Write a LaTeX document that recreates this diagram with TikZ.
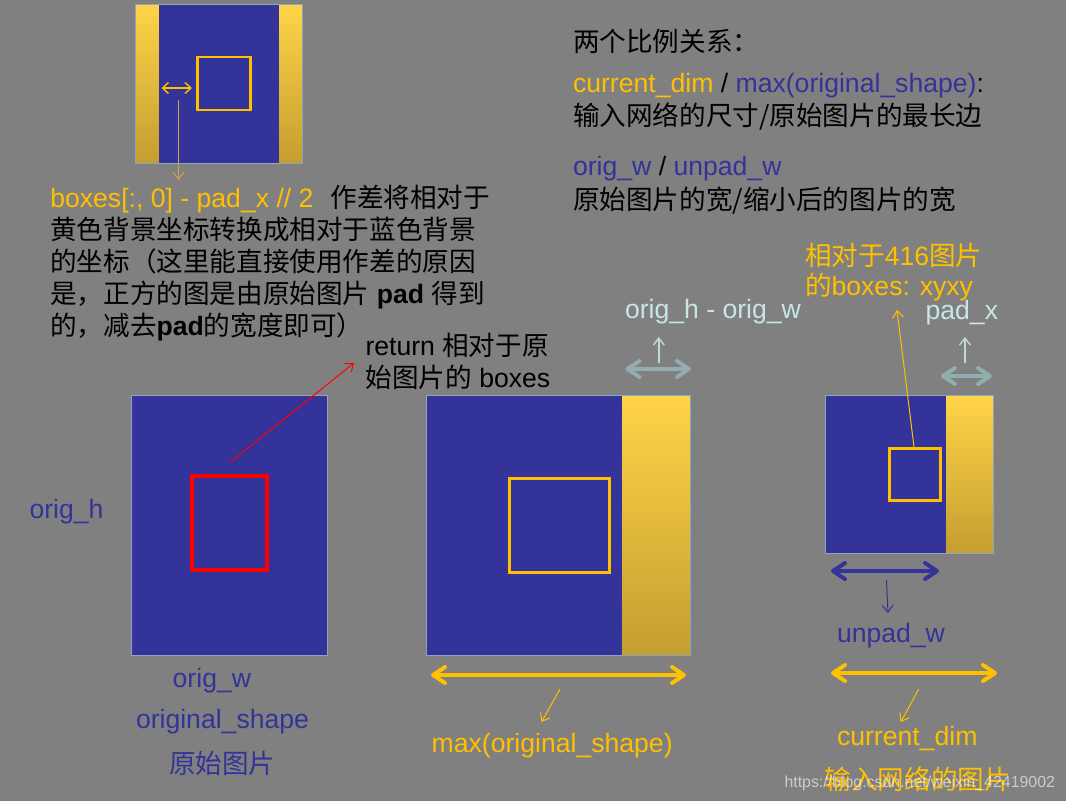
\documentclass[tikz,border=0pt]{standalone}
\usepackage{fontspec}
\setmainfont{Liberation Sans}
\newfontfamily\cjk{Noto Sans CJK SC}
\usetikzlibrary{arrows.meta}
\definecolor{bgGray}{HTML}{808080}
\definecolor{imgBlue}{HTML}{333399}
\definecolor{boxYellow}{HTML}{FFC000}
\definecolor{padTop}{HTML}{FFD447}
\definecolor{padBot}{HTML}{C49E30}
\definecolor{padCyan}{HTML}{C8E6E6}
\definecolor{padArrow}{HTML}{93AEAE}
\definecolor{edgeGray}{HTML}{8FA4C0}
\definecolor{tanArrow}{HTML}{D2A445}
\begin{document}
\begin{tikzpicture}[x=1pt,y=-1pt]
  % pixel grid of the slide, y running down
  \tikzstyle{every node}=[inner sep=0pt, outer sep=0pt, font=\fontsize{26.6}{32}\selectfont]
  \tikzstyle{txt}=[anchor=base west]
  \tikzstyle{blueimg}=[rectangle, fill=imgBlue, anchor=north west]
  \tikzstyle{padimg}=[rectangle, top color=padTop, bottom color=padBot, anchor=north west]
  \tikzstyle{frame}=[rectangle, draw=edgeGray, line width=0.8pt, anchor=north west]
  \tikzstyle{bbox}=[rectangle, draw=boxYellow, line width=3pt, anchor=north west]
  \tikzstyle{pointer}=[line width=1pt, -{Straight Barb[length=7pt,width=11pt]}]
  \tikzstyle{pointers}=[line width=1.4pt, {Straight Barb[length=6pt,width=11pt]}-{Straight Barb[length=6pt,width=11pt]}]
  \tikzstyle{span}=[line width=4pt, line cap=round, {Straight Barb[length=12pt,width=16pt,round]}-{Straight Barb[length=12pt,width=16pt,round]}]

  \useasboundingbox (0,0) rectangle (1066,801);
  \fill[bgGray] (0,0) rectangle (1066,801);

  % padded square at the top
  \node [padimg, minimum width=23.4pt, minimum height=159pt] (topL) at (135.3,4) {};
  \node [blueimg, minimum width=120.7pt, minimum height=159pt] (topB) at (158.7,4) {};
  \node [padimg, minimum width=23.1pt, minimum height=159pt] (topR) at (279.4,4) {};
  \node [frame, minimum width=167.2pt, minimum height=159pt] (topF) at (135.3,4) {};
  \node [bbox, line width=2.5pt, minimum width=53pt, minimum height=53pt] (topBox) at (197.5,57) {};

  % original image
  \node [blueimg, minimum width=195.8pt, minimum height=260pt] (origB) at (131.5,395) {};
  \node [frame, minimum width=195.8pt, minimum height=260pt] (origF) at (131.5,395) {};
  \node [bbox, draw=red, line width=3.5pt, minimum width=74.8pt, minimum height=94pt] (origBox) at (192,476) {};

  % image padded to max(original_shape)
  \node [blueimg, minimum width=195.8pt, minimum height=260pt] (maxB) at (426.6,395) {};
  \node [padimg, minimum width=68pt, minimum height=260pt] (maxP) at (622.4,395) {};
  \node [frame, minimum width=263.8pt, minimum height=260pt] (maxF) at (426.6,395) {};
  \node [bbox, minimum width=100.2pt, minimum height=94pt] (maxBox) at (509.3,478) {};

  % network input image
  \node [blueimg, minimum width=120.5pt, minimum height=158pt] (netB) at (825.5,395) {};
  \node [padimg, minimum width=47.6pt, minimum height=158pt] (netP) at (946,395) {};
  \node [frame, minimum width=168.1pt, minimum height=158pt] (netF) at (825.5,395) {};
  \node [bbox, minimum width=51pt, minimum height=52pt] (netBox) at (889,448) {};

  % note on the left
  \node [txt] (n1) at (50.3,207) {{\color{boxYellow}boxes[:, 0] - pad\_x // 2}\hspace{17pt}{\cjk 作差将相对于}};
  \node [txt] (n2) at (50.3,239) {\cjk 黄色背景坐标转换成相对于蓝色背景};
  \node [txt] (n3) at (50.3,271) {\cjk 的坐标（这里能直接使用作差的原因};
  \node [txt] (n4) at (50.3,303) {{\cjk 是，正方的图是由原始图片} \textbf{pad} {\cjk 得到}};
  \node [txt] (n5) at (50.3,335) {{\cjk 的，减去}\textbf{pad}{\cjk 的宽度即可）}};

  % the two ratios
  \node [txt] (r0) at (573,51) {\cjk 两个比例关系：};
  \node [txt] (r1) at (573,92) {{\color{boxYellow}current\_dim} / {\color{imgBlue}max(original\_shape)}:};
  \node [txt] (r2) at (573,125) {\cjk 输入网络的尺寸/原始图片的最长边};
  \node [txt] (r3) at (573,175) {{\color{imgBlue}orig\_w} / {\color{imgBlue}unpad\_w}};
  \node [txt] (r4) at (573,209) {\cjk 原始图片的宽/缩小后的图片的宽};

  % labels
  \node [txt, boxYellow] (rel1) at (805,265) {{\cjk 相对于}416{\cjk 图片}};
  \node [txt, boxYellow] (rel2) at (805,295) {{\cjk 的}boxes: xyxy};
  \node [txt, padCyan] (hw) at (625,318) {orig\_h - orig\_w};
  \node [txt, padCyan] (padx) at (925.6,319) {pad\_x};
  \node [txt] (ret1) at (365.5,355) {return {\cjk 相对于原}};
  \node [txt] (ret2) at (365.5,387) {{\cjk 始图片的} boxes};
  \node [txt, imgBlue] (oh) at (29.6,518) {orig\_h};
  \node [txt, imgBlue] (ow) at (172.7,687) {orig\_w};
  \node [txt, imgBlue] (os) at (136,728) {original\_shape};
  \node [txt, imgBlue] (oc) at (169,773) {\cjk 原始图片};
  \node [txt, boxYellow] (mx) at (431.7,752) {max(original\_shape)};
  \node [txt, imgBlue] (uw) at (837,642) {unpad\_w};
  \node [txt, boxYellow] (cd) at (837,745) {current\_dim};
  \node [txt, boxYellow] (nc) at (824.6,789) {\cjk 输入网络的图片};
  \node [txt, font=\fontsize{15.9}{18}\selectfont, white, text opacity=0.6] (wm) at (784.5,787) {https://blog.csdn.net/weixin\_42419002};

  % arrow ends
  \coordinate (padL) at (161.5,88);
  \coordinate (padR) at (192,88);
  \coordinate (padM) at (178.5,100);
  \coordinate (noteTop) at (178.5,180);
  \coordinate (redFrom) at (230.5,462);
  \coordinate (redTo) at (354,363);
  \coordinate (netFrom) at (914,447);
  \coordinate (netTo) at (897,310);
  \coordinate (hwL) at (625.5,369);
  \coordinate (hwR) at (691,369);
  \coordinate (hwM) at (658.8,363);
  \coordinate (hwT) at (658.8,337);
  \coordinate (pxL) at (941,376);
  \coordinate (pxR) at (992,376);
  \coordinate (pxM) at (965,363);
  \coordinate (pxT) at (965,337);
  \coordinate (mxL) at (431,675);
  \coordinate (mxR) at (686,675);
  \coordinate (mxA) at (560,689);
  \coordinate (mxB) at (541.5,722);
  \coordinate (uwL) at (831,571);
  \coordinate (uwR) at (939,571);
  \coordinate (uwA) at (886.5,580);
  \coordinate (uwB) at (888,613);
  \coordinate (cdL) at (831,673);
  \coordinate (cdR) at (997,673);
  \coordinate (cdA) at (918.8,689);
  \coordinate (cdB) at (900.8,722);

  % arrows
  \draw [pointers, boxYellow] (padL) -- (padR);
  \draw [pointer, tanArrow] (padM) -- (noteTop);
  \draw [pointer, red] (redFrom) -- (redTo);
  \draw [pointer, boxYellow] (netFrom) -- (netTo);
  \draw [span, padArrow] (hwL) -- (hwR);
  \draw [pointer, line width=1.4pt, padCyan!80!padArrow] (hwM) -- (hwT);
  \draw [span, padArrow] (pxL) -- (pxR);
  \draw [pointer, line width=1.4pt, padCyan!80!padArrow] (pxM) -- (pxT);
  \draw [span, boxYellow] (mxL) -- (mxR);
  \draw [pointer, boxYellow] (mxA) -- (mxB);
  \draw [span, imgBlue] (uwL) -- (uwR);
  \draw [pointer, imgBlue] (uwA) -- (uwB);
  \draw [span, boxYellow] (cdL) -- (cdR);
  \draw [pointer, boxYellow] (cdA) -- (cdB);
\end{tikzpicture}
\end{document}
